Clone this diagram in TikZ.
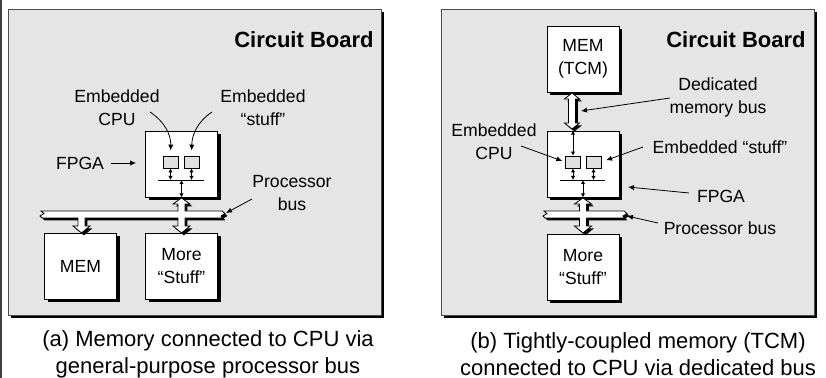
\documentclass[tikz,border=0pt]{standalone}
\usepackage{fontspec}
\setmainfont{Liberation Sans}
\usetikzlibrary{arrows.meta,shadows}

\begin{document}
\begin{tikzpicture}[x=.5pt,y=-.5pt,line width=.4pt,
  dropsh/.style={drop shadow={shadow xshift=1.5pt,shadow yshift=-1.5pt,fill=black,opacity=1}},
  lbl/.style={font=\fontsize{8.8}{11.5}\selectfont,align=center,inner sep=0pt},
  board/.style={draw=black!70,fill=black!10,minimum width=186.5pt,minimum height=153pt,inner sep=0pt,dropsh},
  box/.style={draw,fill=white,minimum width=36pt,minimum height=33pt,inner sep=0pt,lbl,dropsh},
  cell/.style={draw,fill=black!12,minimum width=7.5pt,minimum height=6pt,inner sep=0pt},
  bus/.style={draw,fill=white,drop shadow={shadow xshift=1.2pt,shadow yshift=-1.2pt,fill=black,opacity=1}},
  ptr/.style={-{Latex[length=3pt,width=2.6pt]}},
  dbl/.style={{Latex[length=2pt,width=2.2pt]}-{Latex[length=2pt,width=2.2pt]}},
  title/.style={font=\fontsize{11}{13}\selectfont\bfseries,anchor=east,inner sep=0pt},
  caption/.style={font=\fontsize{11}{13.5}\selectfont,align=center,inner sep=0pt}]
\useasboundingbox (0,0) rectangle (826,378);
\draw[black!75,line width=.6pt] (1,0) -- (1,378);

% (a) processor bus
\node[board] (boardA) at (194.5,162) {};
\node[title] (titleA) at (374,40) {Circuit Board};
\node[box] (fpgaA) at (181.5,164) {};
\node[box] (memA) at (80.5,266.5) {MEM};
\node[box] (moreA) at (181.5,266.5) {More\\“Stuff”};
\node[cell] (cpuA) at (170.5,162) {};
\node[cell] (stuffA) at (191.5,162) {};
\coordinate (lnA1) at (158,180);
\coordinate (lnA2) at (204,180);
\draw (lnA1) -- (lnA2);
\draw[dbl] (cpuA.south) -- (cpuA.south |- lnA1);
\draw[dbl] (stuffA.south) -- (stuffA.south |- lnA1);
\draw[dbl] (fpgaA.south |- lnA1) -- (fpgaA.south);
\path[bus] (41,211) -- (178,211) -- (178,204) -- (173,204) -- (181.5,198) -- (190,204) -- (185,204)
  -- (185,211) -- (222,211) -- (225,213.5) -- (221,216) -- (223,218) -- (185,218) -- (185,226)
  -- (190,226) -- (181.5,233) -- (173,226) -- (178,226) -- (178,218) -- (85,218) -- (85,226)
  -- (90,226) -- (81.5,233) -- (73,226) -- (78,226) -- (78,218) -- (42,218) -- (40,216)
  -- (44,213.5) -- cycle;
\node[lbl] (cpuLabelA) at (117,108) {Embedded\\CPU};
\node[lbl] (stuffLabelA) at (263,108) {Embedded\\“stuff”};
\node[lbl] (fpgaLabelA) at (80,163) {FPGA};
\node[lbl] (busLabelA) at (292,193) {Processor\\bus};
\coordinate (cpuTailA) at (150,112);
\coordinate (stuffTailA) at (212,112);
\coordinate (busTailA) at (252,199);
\coordinate (busTipA) at (226,213);
\draw[ptr,shorten >=2.5pt] (cpuTailA) .. controls (165,122) and (171,135) .. (cpuA.north);
\draw[ptr,shorten >=2.5pt] (stuffTailA) .. controls (197,122) and (192,135) .. (stuffA.north);
\draw[ptr,shorten <=3.5pt,shorten >=4.5pt] (fpgaLabelA.east) -- (fpgaLabelA.east -| fpgaA.west);
\draw[ptr] (busTailA) -- (busTipA);
\node[caption] (capA) at (208,354) {(a) Memory connected to CPU via\\general-purpose processor bus};

% (b) tightly-coupled memory
\node[board] (boardB) at (627.5,162) {};
\node[title] (titleB) at (806,40) {Circuit Board};
\node[box] (memB) at (583,59) {MEM\\(TCM)};
\node[box] (fpgaB) at (583,164) {};
\node[box] (moreB) at (583,267) {More\\“Stuff”};
\node[cell] (cpuB) at (573,162) {};
\node[cell] (stuffB) at (593.5,162) {};
\coordinate (lnB1) at (560,180);
\coordinate (lnB2) at (605,180);
\draw (lnB1) -- (lnB2);
\draw[dbl] (cpuB.south) -- (cpuB.south |- lnB1);
\draw[dbl] (stuffB.south) -- (stuffB.south |- lnB1);
\draw[dbl] (fpgaB.south |- lnB1) -- (fpgaB.south);
\draw[dbl] (cpuB.north |- fpgaB.north) -- (cpuB.north);
\path[bus] (572,93) -- (579.5,99) -- (575.5,99) -- (575.5,123) -- (579.5,123) -- (572,129)
  -- (564.5,123) -- (568.5,123) -- (568.5,99) -- (564.5,99) -- cycle;
\path[bus] (544,211) -- (579.5,211) -- (579.5,204) -- (574.5,204) -- (583,198) -- (591.5,204)
  -- (586.5,204) -- (586.5,211) -- (624,211) -- (627,213.5) -- (623,216) -- (625,218)
  -- (586.5,218) -- (586.5,226) -- (591.5,226) -- (583,233) -- (574.5,226) -- (579.5,226)
  -- (579.5,218) -- (545,218) -- (543,216) -- (547,213.5) -- cycle;
\node[lbl] (dedLabel) at (718,97) {Dedicated\\memory bus};
\node[lbl] (cpuLabelB) at (494,142) {Embedded\\CPU};
\node[lbl] (stuffLabelB) at (720,147) {Embedded “stuff”};
\node[lbl] (fpgaLabelB) at (721,196) {FPGA};
\node[lbl] (busLabelB) at (720,228) {Processor bus};
\coordinate (dedTail) at (670,98);
\coordinate (dedTip) at (581,111);
\coordinate (cpuTailB) at (521,146);
\coordinate (stuffTailB) at (643,147);
\coordinate (fpgaTailB) at (689,193);
\coordinate (fpgaTipB) at (628,187);
\coordinate (busTailB) at (658,223);
\coordinate (busTipB) at (627,216);
\draw[ptr] (dedTail) -- (dedTip);
\draw[ptr,shorten >=1.5pt] (cpuTailB) -- (cpuB.west);
\draw[ptr,shorten >=2.5pt] (stuffTailB) -- (stuffB.east);
\draw[ptr] (fpgaTailB) -- (fpgaTipB);
\draw[ptr] (busTailB) -- (busTipB);
\node[caption] (capB) at (638,354) {(b) Tightly-coupled memory (TCM)\\connected to CPU via dedicated bus};
\end{tikzpicture}
\end{document}
